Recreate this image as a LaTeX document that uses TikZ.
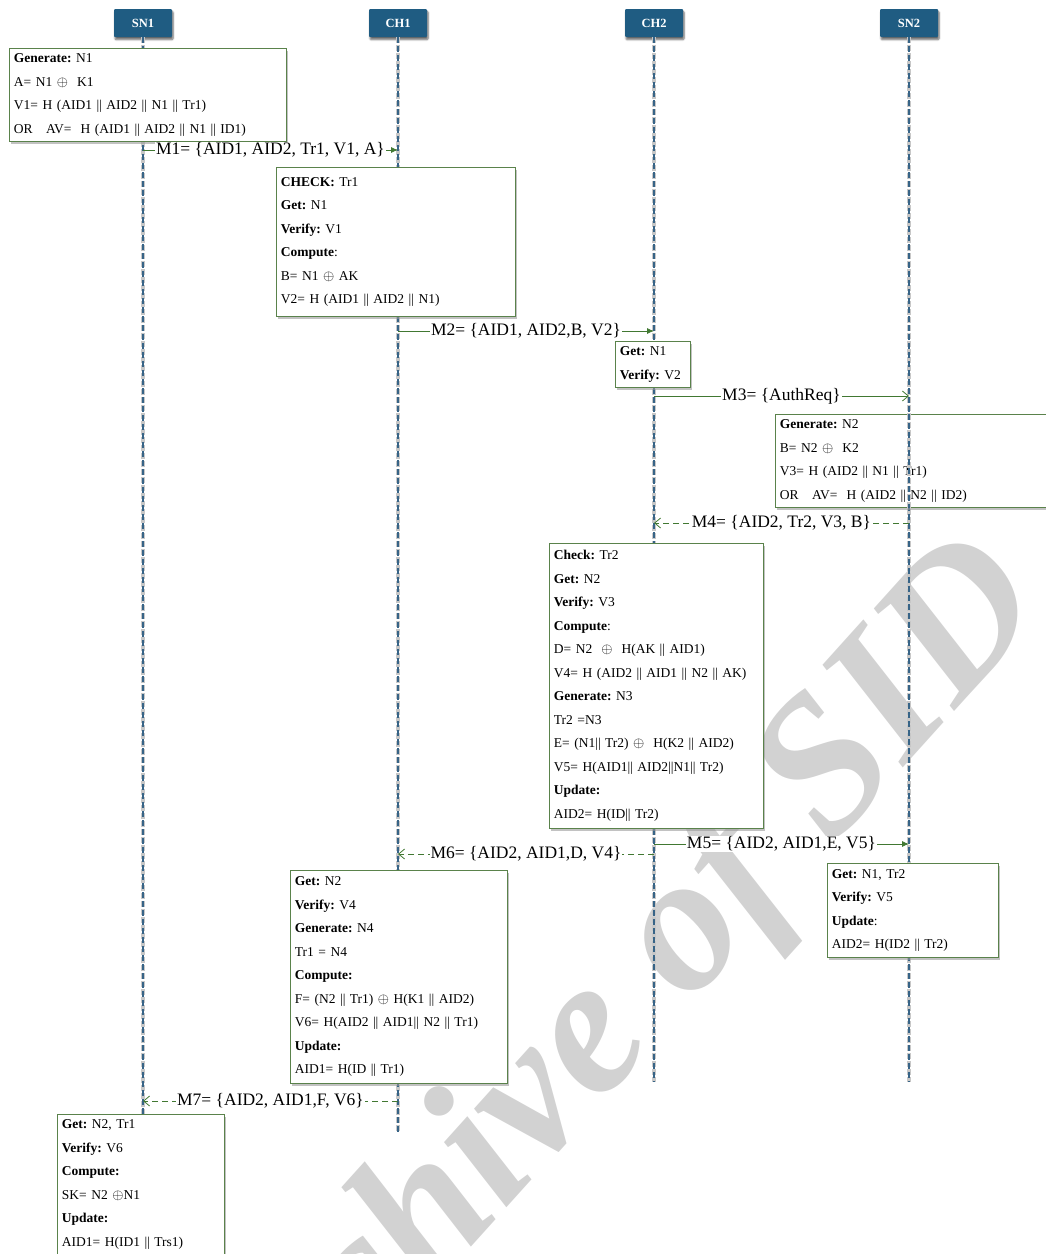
\documentclass[tikz,border=0pt]{standalone}
\usepackage{fontspec}
\setmainfont{Liberation Serif}
\usetikzlibrary{arrows.meta, shadows, shadows.blur}
\frenchspacing

\definecolor{hdrblue}{RGB}{31,92,130}
\definecolor{lifeblue}{RGB}{55,100,135}
\definecolor{msggreen}{RGB}{65,120,50}
\definecolor{boxgreen}{RGB}{90,130,75}
\definecolor{wmgray}{RGB}{210,210,210}

\tikzset{
  actor/.style={fill=hdrblue, text=white, font=\bfseries\fontsize{12.5}{14}\selectfont,
    minimum width=58pt, minimum height=28pt, inner sep=0pt, rounded corners=1pt,
    blur shadow={shadow xshift=1pt, shadow yshift=-2.5pt, shadow blur steps=6, shadow opacity=60}},
  lifeline/.style={draw=lifeblue, line width=1.1pt, dash pattern=on 6pt off 3pt,
    preaction={draw=black!22, line width=3.5pt, dash pattern=on 6pt off 2pt}},
  infobox/.style={draw=boxgreen, line width=0.9pt, fill=white, align=left, anchor=north west,
    inner xsep=4.5pt, inner ysep=5.5pt, font=\fontsize{13.5}{23.5}\selectfont,
    drop shadow={shadow xshift=2pt, shadow yshift=-2.5pt, fill=black!40, opacity=0.6}},
  msg/.style={draw=msggreen, line width=0.8pt},
  reply/.style={msg, dash pattern=on 6pt off 4pt},
  msglabel/.style={fill=white, inner xsep=1pt, inner ysep=1pt, font=\fontsize{17.5}{20}\selectfont},
  send/.style={msg, -{Latex[length=7pt,width=6pt]}},
  ask/.style={msg, -{Straight Barb[length=6pt,width=10pt]}},
  back/.style={reply, -{Straight Barb[length=6pt,width=10pt]}}
}

\begin{document}
\begin{tikzpicture}[x=1pt,y=-1pt]
  \useasboundingbox (0,0) rectangle (1046,1254);
  \clip (0,0) rectangle (1046,1254);
  % watermark
  \node[text=wmgray, font=\bfseries\itshape\fontsize{196}{196}\selectfont, rotate=48] (wm) at (606,1026) {Archive of SID};
  % actors
  \node[actor] (sn1) at (143,23) {SN1};
  \node[actor] (ch1) at (398,23) {CH1};
  \node[actor] (ch2) at (654,23) {CH2};
  \node[actor] (sn2) at (909,23) {SN2};
  \coordinate (sn1end) at (143,1116);
  \coordinate (ch1end) at (398,1132);
  \coordinate (ch2end) at (654,1082);
  \coordinate (sn2end) at (909,1082);
  % lifelines
  \draw[lifeline] (sn1) -- (sn1end);
  \draw[lifeline] (ch1) -- (ch1end);
  \draw[lifeline] (ch2) -- (ch2end);
  \draw[lifeline] (sn2) -- (sn2end);
  % message heights
  \coordinate (m1) at (0,150);
  \coordinate (m2) at (0,331);
  \coordinate (m3) at (0,396);
  \coordinate (m4) at (0,523);
  \coordinate (m5) at (0,844);
  \coordinate (m6) at (0,854);
  \coordinate (m7) at (0,1101);
  % computation boxes
  \node[infobox, text width=268pt, minimum height=90pt] (gen1) at (9,48)
    {\textbf{Generate:} N1\\
     A= N1 $\oplus$\ \ K1\\
     V1= H (AID1 || AID2 || N1 || Tr1)\\
     OR\quad AV=\ \ H (AID1 || AID2 || N1 || ID1)};
  \node[infobox, text width=230pt, minimum height=149pt] (chk1) at (276,167)
    {\textbf{CHECK:} Tr1\\
     \textbf{Get:} N1\\
     \textbf{Verify:} V1\\
     \textbf{Compute}:\\
     B= N1 $\oplus$ AK\\
     V2= H (AID1 || AID2 || N1)};
  \node[infobox, text width=66pt, minimum height=46pt] (get2) at (615,341)
    {\textbf{Get:} N1\\
     \textbf{Verify:} V2};
  \node[infobox, text width=271pt, minimum height=92pt] (gen2) at (775,414)
    {\textbf{Generate:} N2\\
     B= N2 $\oplus$\ \ K2\\
     V3= H (AID2 || N1 || Tr1)\\
     OR\quad AV=\ \ H (AID2 || N2 || ID2)};
  \draw[lifeline] (gen2.north -| sn2) -- (gen2.south -| sn2);
  \node[infobox, text width=205pt, minimum height=285pt] (chk2) at (549,543)
    {\textbf{Check:} Tr2\\
     \textbf{Get:} N2\\
     \textbf{Verify:} V3\\
     \textbf{Compute}:\\
     D= N2\ \ $\oplus$\ \ H(AK || AID1)\\
     V4= H (AID2 || AID1 || N2 || AK)\\
     \textbf{Generate:} N3\\
     Tr2 =N3\\
     E= (N1|| Tr2) $\oplus$\ \ H(K2 || AID2)\\
     V5= H(AID1|| AID2||N1|| Tr2)\\
     \textbf{Update:}\\
     AID2= H(ID|| Tr2)};
  \node[infobox, text width=208pt, minimum height=213pt] (get3) at (290,870)
    {\textbf{Get:} N2\\
     \textbf{Verify:} V4\\
     \textbf{Generate:} N4\\
     Tr1 = N4\\
     \textbf{Compute:}\\
     F= (N2 || Tr1) $\oplus$ H(K1 || AID2)\\
     V6= H(AID2 || AID1|| N2 || Tr1)\\
     \textbf{Update:}\\
     AID1= H(ID || Tr1)};
  \node[infobox, text width=162pt, minimum height=94pt] (get4) at (827,863)
    {\textbf{Get:} N1, Tr2\\
     \textbf{Verify:} V5\\
     \textbf{Update}:\\
     AID2= H(ID2 || Tr2)};
  \node[infobox, text width=158pt] (get5) at (57,1114)
    {\textbf{Get:} N2, Tr1\\
     \textbf{Verify:} V6\\
     \textbf{Compute:}\\
     SK= N2 $\oplus$N1\\
     \textbf{Update:}\\
     AID1= H(ID1 || Trs1)};
  % messages
  \draw[send] (sn1 |- m1) -- node[msglabel] {M1= \{AID1, AID2, Tr1, V1, A\}} (ch1 |- m1);
  \draw[send] (ch1 |- m2) -- node[msglabel] {M2= \{AID1, AID2,B, V2\}} (ch2 |- m2);
  \draw[ask] (ch2 |- m3) -- node[msglabel] {M3= \{AuthReq\}} (sn2 |- m3);
  \draw[back] (sn2 |- m4) -- node[msglabel] {M4= \{AID2, Tr2, V3, B\}} (ch2 |- m4);
  \draw[send] (ch2 |- m5) -- node[msglabel] {M5= \{AID2, AID1,E, V5\}} (sn2 |- m5);
  \draw[back] (ch2 |- m6) -- node[msglabel] {M6= \{AID2, AID1,D, V4\}} (ch1 |- m6);
  \draw[back] (ch1 |- m7) -- node[msglabel] {M7= \{AID2, AID1,F, V6\}} (sn1 |- m7);
\end{tikzpicture}
\end{document}
